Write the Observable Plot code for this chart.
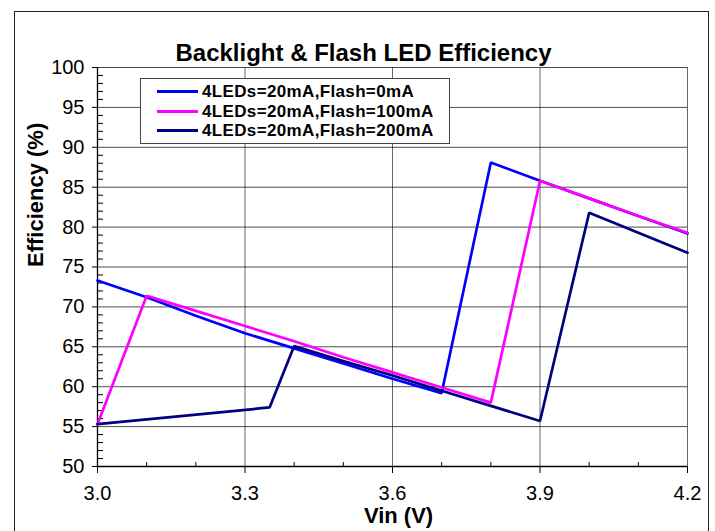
<!DOCTYPE html>
<html><head><meta charset="utf-8">
<script src="https://cdn.jsdelivr.net/npm/d3@7"></script>
<script src="https://cdn.jsdelivr.net/npm/@observablehq/plot@0.6"></script>
<style>
body{margin:0;background:#fff;}
#wrap{position:relative;width:715px;height:531px;overflow:hidden;font-family:"Liberation Sans",Arial,sans-serif;}
#border{position:absolute;left:14px;top:11px;width:695px;height:600px;border:1.5px solid #222;box-sizing:border-box;pointer-events:none;}
#legend{position:absolute;left:140px;top:78px;width:310px;height:66px;border:1px solid #444;background:#fff;box-sizing:border-box;}
.row{position:absolute;left:16px;height:19.5px;display:flex;align-items:center;}
.sw{width:41px;height:3px;margin-right:4px;}
.lab{font-weight:bold;font-size:17px;letter-spacing:0.35px;color:#000;line-height:19.5px;}
</style></head><body><div id="wrap"><div id="border"></div></div>
<script>
// Data
const seriesNames = ["4LEDs=20mA,Flash=0mA", "4LEDs=20mA,Flash=100mA", "4LEDs=20mA,Flash=200mA"];
const seriesColors = ["#0000FF", "#FF00FF", "#000080"];

const vin0 = [3.0, 3.1, 3.2, 3.3, 3.4, 3.5, 3.6, 3.7, 3.8, 3.9, 4.0, 4.1, 4.2];
const eff0 = [73.3, 71.2, 68.9, 66.7, 64.8, 62.9, 61.0, 59.2, 88.1, 85.8, 83.6, 81.4, 79.2];

const vin100 = [3.0, 3.1, 3.2, 3.3, 3.4, 3.5, 3.6, 3.7, 3.8, 3.9, 4.0, 4.1, 4.2];
const eff100 = [55.3, 71.4, 69.5, 67.6, 65.7, 63.7, 61.8, 59.9, 58.0, 85.8, 83.6, 81.4, 79.3];

const vin200 = [3.0, 3.35, 3.4, 3.5, 3.6, 3.7, 3.8, 3.9, 4.0, 4.1, 4.2];
const eff200 = [55.3, 57.4, 65.1, 63.2, 61.4, 59.5, 57.6, 55.7, 81.8, 79.3, 76.8];

const xMajor = [3.0, 3.3, 3.6, 3.9, 4.2];
const xMinor = [3.1, 3.2, 3.4, 3.5, 3.7, 3.8, 4.0, 4.1];
const yMajor = [50, 55, 60, 65, 70, 75, 80, 85, 90, 95, 100];
const yMinor = d3.range(51, 100).filter(v => v % 5 !== 0);

const titleText = "Backlight & Flash LED Efficiency";
const xLabel = "Vin (V)";
const yLabel = "Efficiency (%)";

const rows = [
  ...vin0.map((v, i) => ({vin: v, eff: eff0[i], s: seriesNames[0]})),
  ...vin100.map((v, i) => ({vin: v, eff: eff100[i], s: seriesNames[1]})),
  ...vin200.map((v, i) => ({vin: v, eff: eff200[i], s: seriesNames[2]}))
];

const W = 715, H = 531, ML = 97, MR = 28, MT = 67, MB = 65;
const frameW = W - ML - MR, frameH = H - MT - MB;

const chart = Plot.plot({
  width: W, height: H,
  marginLeft: ML, marginRight: MR, marginTop: MT, marginBottom: MB,
  style: {fontFamily: "'Liberation Sans', Arial, sans-serif", background: "transparent", color: "#000", overflow: "visible"},
  x: {domain: [3.0, 4.2]},
  y: {domain: [50, 100]},
  color: {domain: seriesNames, range: seriesColors},
  marks: [
    Plot.gridX(xMajor.slice(1), {stroke: "#000", strokeOpacity: 0.6}),
    Plot.gridY(yMajor.slice(1), {stroke: "#000", strokeOpacity: 0.7}),
    Plot.tickX(xMinor, {x: d => d, stroke: "#000", insetTop: frameH - 4}),
    Plot.tickY(yMinor, {y: d => d, stroke: "#000", insetRight: frameW - 6}),
    Plot.axisX(xMajor, {tickSize: 7, tickPadding: 12, fontSize: 20, tickFormat: d => d.toFixed(1), label: null, letterSpacing: "-0.6px"}),
    Plot.axisY(yMajor, {tickSize: 5, tickPadding: 8, fontSize: 20, label: null, letterSpacing: "-0.8px"}),
    Plot.ruleX([3.0], {stroke: "#000", strokeWidth: 1.3}),
    Plot.ruleY([50], {stroke: "#000", strokeWidth: 1.3}),
    Plot.line(rows, {x: "vin", y: "eff", z: "s", stroke: "s", strokeWidth: 2.7, strokeLinejoin: "miter"}),
    Plot.text([titleText], {frameAnchor: "top", dx: -29, dy: -24, fontSize: 24, fontWeight: "bold", letterSpacing: "0.1px"}),
    Plot.text([xLabel], {frameAnchor: "bottom", dx: 6, dy: 56, fontSize: 22, fontWeight: "bold", letterSpacing: "-0.4px"}),
    Plot.text([yLabel], {frameAnchor: "left", rotate: -90, dx: -62, dy: 0, fontSize: 22, fontWeight: "bold", letterSpacing: "-0.5px"})
  ]
});

const wrap = document.getElementById("wrap");
wrap.insertBefore(chart, wrap.firstChild);

// Legend (HTML, above the plot)
const legend = document.createElement("div");
legend.id = "legend";
seriesNames.forEach((name, i) => {
  const r = document.createElement("div");
  r.className = "row";
  r.style.top = (3 + i * 19.5) + "px";
  const sw = document.createElement("div");
  sw.className = "sw";
  sw.style.background = seriesColors[i];
  const lab = document.createElement("span");
  lab.className = "lab";
  lab.textContent = name;
  r.appendChild(sw); r.appendChild(lab);
  legend.appendChild(r);
});
wrap.appendChild(legend);
</script>
</body></html>
